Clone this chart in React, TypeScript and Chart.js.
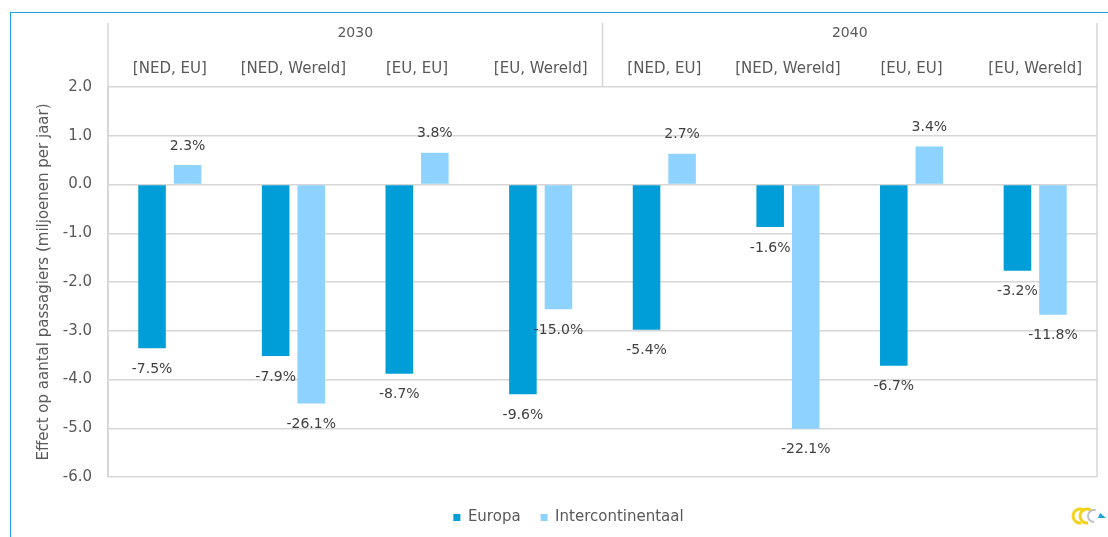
import React, { useEffect, useRef } from "react";
import { Chart, registerables } from "chart.js";

Chart.register(...registerables);

const subLabels = ["[NED, EU]", "[NED, Wereld]", "[EU, EU]", "[EU, Wereld]", "[NED, EU]", "[NED, Wereld]", "[EU, EU]", "[EU, Wereld]"];
const yearLabels = ["2030", "2040"];
const europaValues = [-3.36, -3.52, -3.88, -4.3, -2.98, -0.87, -3.72, -1.77];
const interValues = [0.4, -4.49, 0.65, -2.56, 0.63, -5.01, 0.78, -2.67];
const europaPct = ["-7.5%", "-7.9%", "-8.7%", "-9.6%", "-5.4%", "-1.6%", "-6.7%", "-3.2%"];
const interPct = ["2.3%", "-26.1%", "3.8%", "-15.0%", "2.7%", "-22.1%", "3.4%", "-11.8%"];
const seriesNames = ["Europa", "Intercontinentaal"];

const FONT = "'DejaVu Sans', Verdana, sans-serif";
const GRID = "#D6D6D6";
const TEXT = "#595959";

const headerPlugin = {
  id: "headerLines",
  afterLayout(chart: any) {
    const lg = chart.legend;
    if (lg) {
      lg.left += 20;
      lg.right += 20;
      lg.top += 13;
      lg.bottom += 13;
    }
  },
  afterDraw(chart: any) {
    const { ctx, chartArea, scales } = chart;
    const x = scales.x;
    const x2 = scales.x2;
    const top = x2.top;
    ctx.save();
    ctx.strokeStyle = GRID;
    ctx.lineWidth = 1.5;
    ctx.beginPath();
    ctx.moveTo(chartArea.left, top);
    ctx.lineTo(chartArea.left, chartArea.bottom);
    ctx.moveTo(chartArea.right, top);
    ctx.lineTo(chartArea.right, chartArea.bottom);
    const mid = (x.getPixelForValue(3) + x.getPixelForValue(4)) / 2;
    ctx.moveTo(mid, top);
    ctx.lineTo(mid, chartArea.top);
    ctx.stroke();

    // logo (decorative)
    const lx = 1080, ly = 516;
    ctx.lineWidth = 3;
    ctx.strokeStyle = "#F3D21B";
    ctx.beginPath();
    ctx.arc(lx, ly, 7, Math.PI * 0.45, Math.PI * 1.75);
    ctx.stroke();
    ctx.beginPath();
    ctx.arc(lx + 7, ly, 7, Math.PI * 0.45, Math.PI * 1.75);
    ctx.stroke();
    ctx.strokeStyle = "#BFC3C7";
    ctx.lineWidth = 2;
    ctx.beginPath();
    ctx.arc(lx + 14, ly, 6, Math.PI * 0.5, Math.PI * 1.6);
    ctx.stroke();
    ctx.fillStyle = "#1BA1E2";
    ctx.beginPath();
    ctx.moveTo(lx + 20, ly - 3);
    ctx.lineTo(lx + 26, ly + 2);
    ctx.lineTo(lx + 18, ly + 2);
    ctx.closePath();
    ctx.fill();
    ctx.restore();
  },
};

const labelPlugin = {
  id: "barLabels",
  afterDatasetsDraw(chart: any) {
    const { ctx } = chart;
    const texts = [europaPct, interPct];
    ctx.save();
    ctx.font = `14px ${FONT}`;
    ctx.fillStyle = "#404040";
    ctx.textAlign = "center";
    ctx.textBaseline = "middle";
    chart.data.datasets.forEach((ds: any, di: number) => {
      const meta = chart.getDatasetMeta(di);
      meta.data.forEach((el: any, i: number) => {
        const v = ds.data[i];
        const y = v < 0 ? el.y + 21 : el.y - 19;
        ctx.fillText(texts[di][i], el.x, y);
      });
    });
    ctx.restore();
  },
};

export default function App() {
  const ref = useRef<HTMLCanvasElement | null>(null);
  useEffect(() => {
    if (!ref.current) return;
    const chart = new Chart(ref.current, {
      type: "bar",
      data: {
        labels: subLabels,
        datasets: [
          {
            label: seriesNames[0],
            data: europaValues,
            backgroundColor: "#009ED8",
            categoryPercentage: 0.575,
            barPercentage: 0.775,
          },
          {
            label: seriesNames[1],
            data: interValues,
            backgroundColor: "#8ED2FF",
            categoryPercentage: 0.575,
            barPercentage: 0.775,
          },
        ],
      },
      options: {
        animation: false,
        responsive: true,
        maintainAspectRatio: false,
        layout: { padding: { top: 23, right: 11, bottom: 15, left: 0 } },
        plugins: {
          tooltip: { enabled: false },
          legend: {
            position: "bottom",
            labels: {
              boxWidth: 7,
              boxHeight: 7,
              padding: 20,
              color: TEXT,
              font: { family: FONT, size: 15 },
            },
          },
        },
        scales: {
          x: {
            type: "category",
            position: "top",
            grid: { display: false, drawTicks: false },
            border: { display: false },
            ticks: {
              color: TEXT,
              font: { family: FONT, size: 15 },
              padding: 9,
              maxRotation: 0,
              autoSkip: false,
            },
            afterFit(scale: any) {
              scale.height = 40;
            },
          },
          x2: {
            type: "category",
            position: "top",
            labels: yearLabels,
            offset: true,
            grid: { display: false, drawTicks: false },
            border: { display: false },
            ticks: {
              color: TEXT,
              font: { family: FONT, size: 14 },
              padding: 5,
              maxRotation: 0,
            },
            afterFit(scale: any) {
              scale.height = 24;
            },
          },
          y: {
            min: -6,
            max: 2,
            ticks: {
              stepSize: 1,
              color: TEXT,
              font: { family: FONT, size: 15 },
              padding: 16,
              callback: (v: any) => Number(v).toFixed(1),
            },
            grid: { color: GRID, lineWidth: 1.5, drawTicks: false },
            border: { display: true, color: GRID, width: 1.5 },
            title: {
              display: true,
              text: "Effect op aantal passagiers (miljoenen per jaar)",
              color: TEXT,
              font: { family: FONT, size: 15 },
              padding: { top: 35, bottom: 0 },
            },
            afterFit(scale: any) {
              scale.width = 108;
            },
          },
        },
      },
      plugins: [headerPlugin, labelPlugin],
    });
    return () => chart.destroy();
  }, []);

  return (
    <div style={{ position: "fixed", left: 0, top: 0, width: 1108, height: 537, background: "#fff" }}>
      <div
        style={{
          position: "absolute",
          left: 10,
          top: 12,
          width: 1200,
          height: 700,
          borderTop: "1px solid #1BA1E2",
          borderLeft: "1px solid #1BA1E2",
          pointerEvents: "none",
        }}
      />
      <canvas ref={ref} style={{ position: "absolute", left: 0, top: 0 }} />
    </div>
  );
}
